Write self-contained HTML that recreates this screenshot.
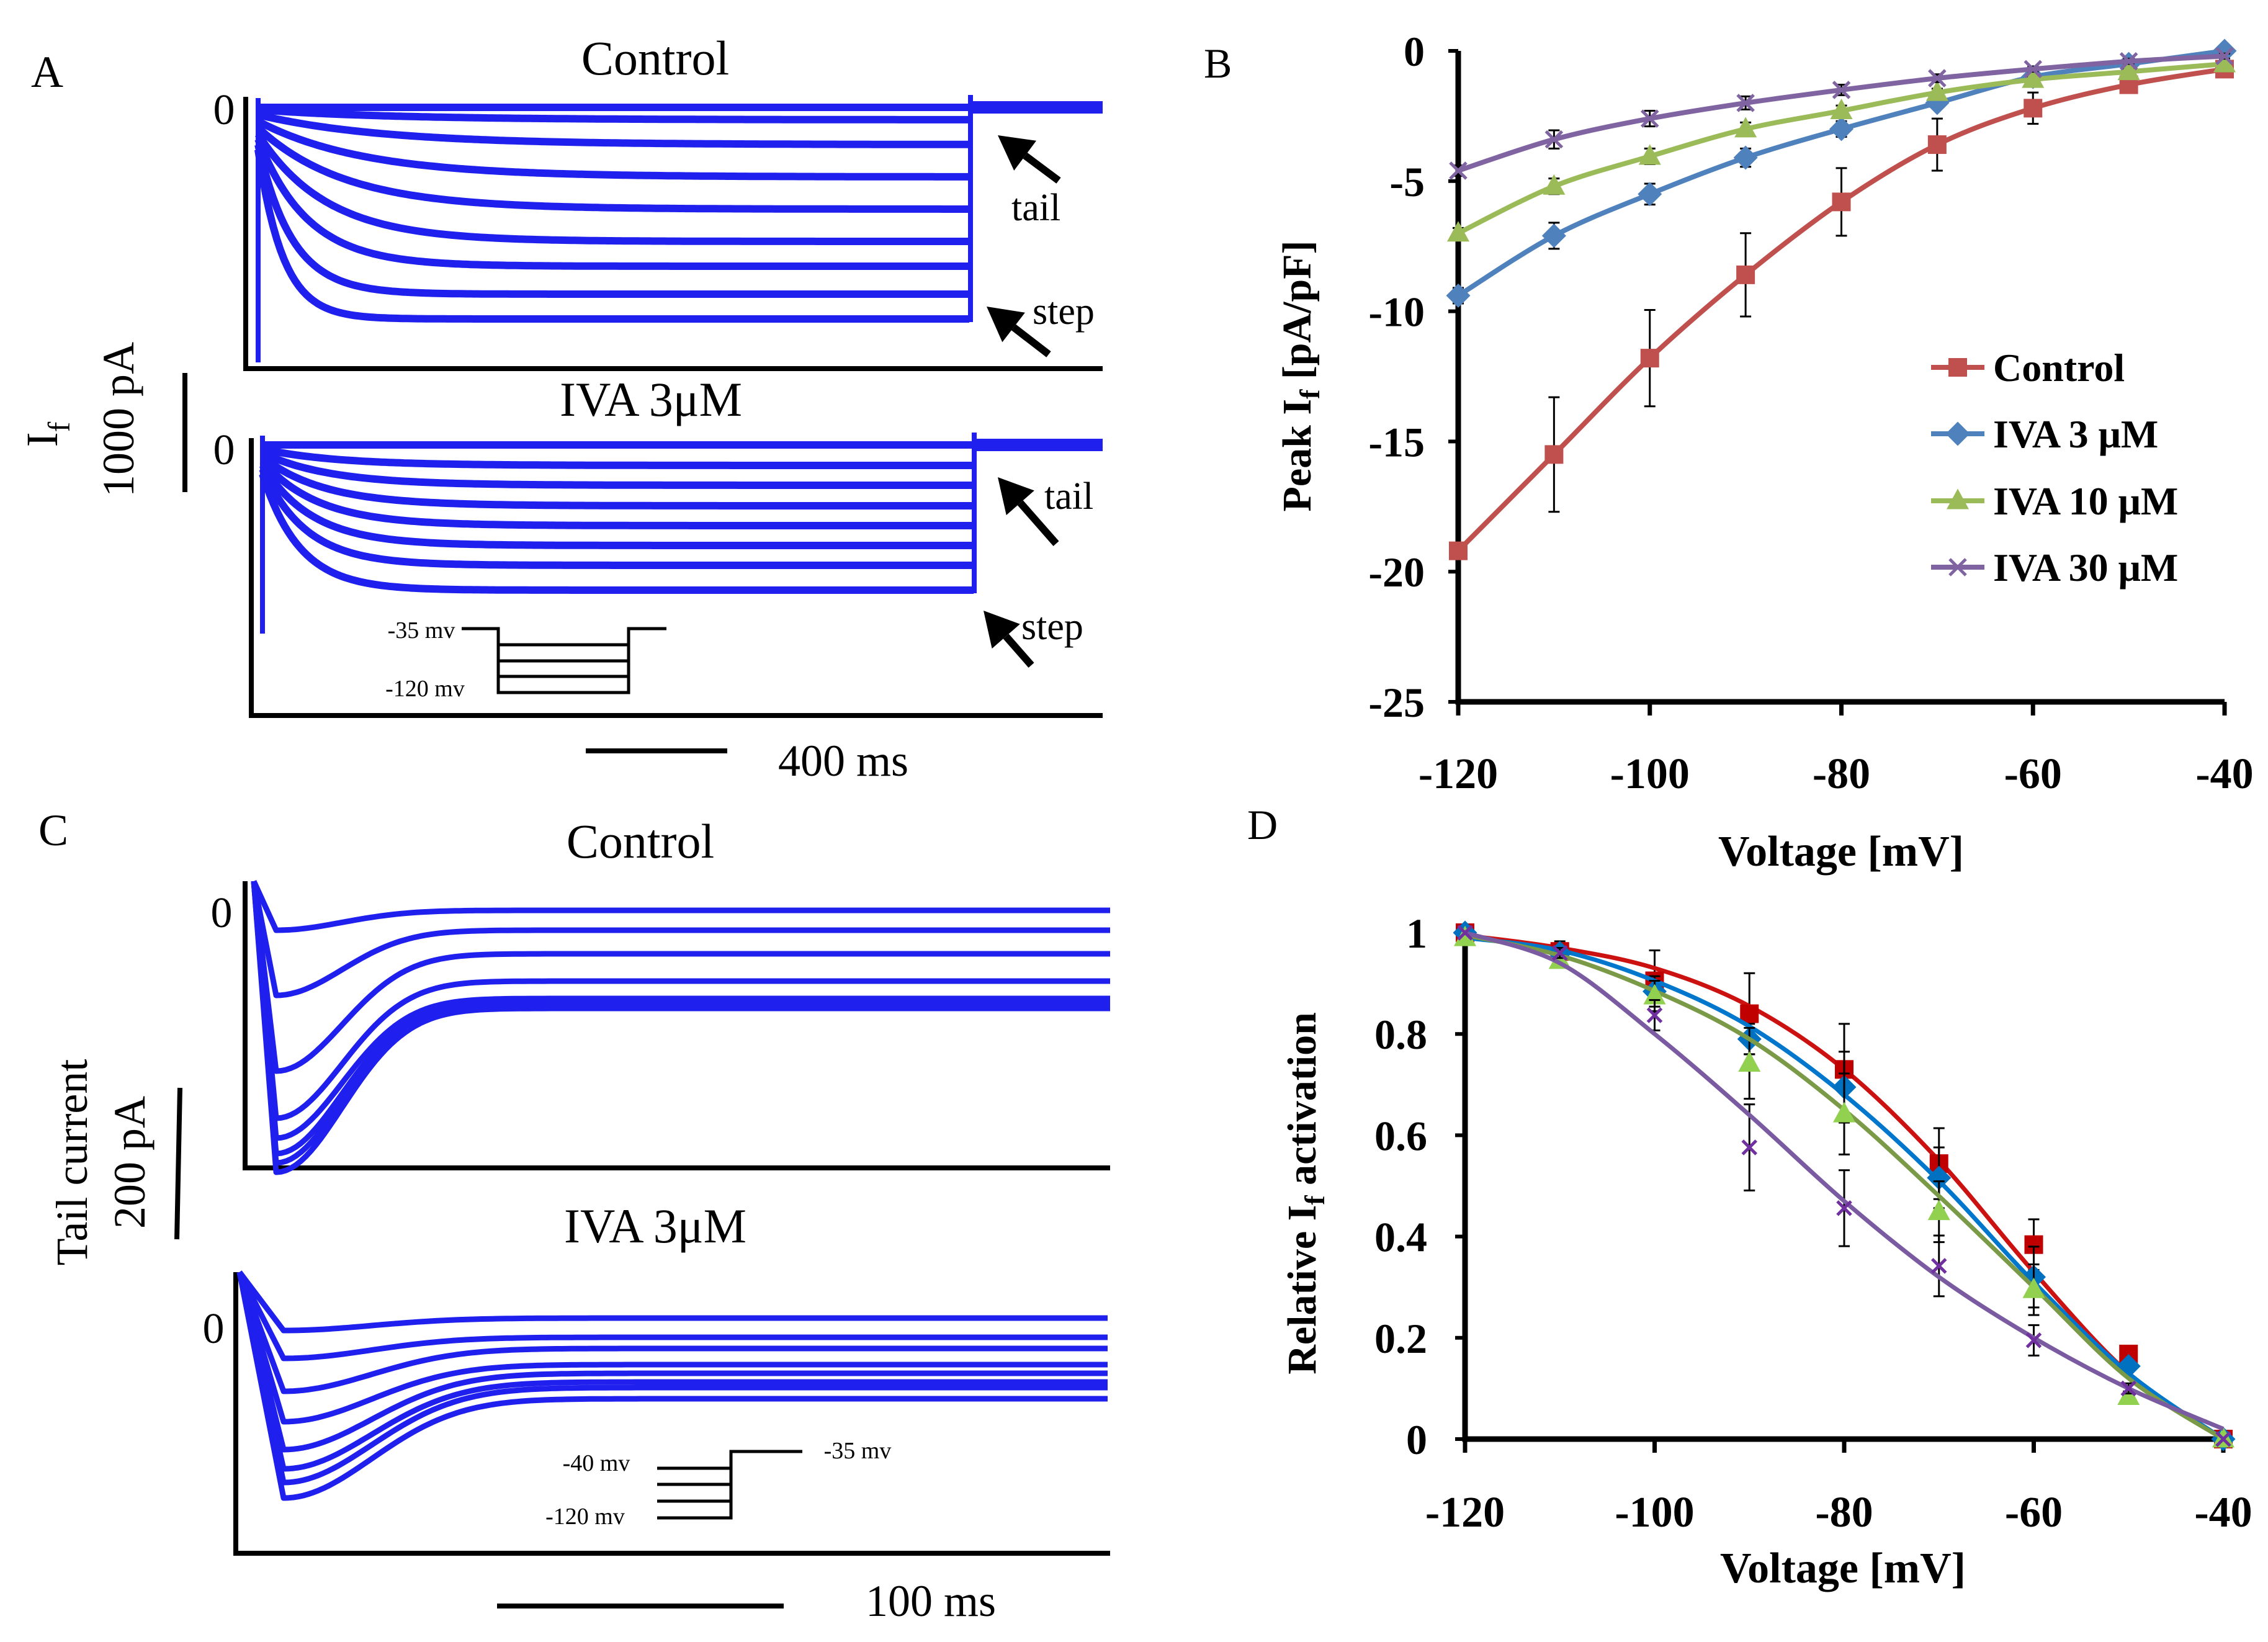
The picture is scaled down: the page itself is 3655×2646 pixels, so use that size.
<!DOCTYPE html>
<html><head><meta charset="utf-8"><style>
html,body{margin:0;padding:0;background:#fff}
svg{display:block}
text{font-family:"Liberation Serif",serif}
.b{font-weight:bold}
</style></head><body>
<svg id="fig" width="3655" height="2646" viewBox="0 0 3655 2646" xmlns="http://www.w3.org/2000/svg">
<g id="pA">
 <text x="50" y="140" font-size="72">A</text>
 <text x="1056" y="120" font-size="78" text-anchor="middle">Control</text>
 <text x="1049" y="670" font-size="78" text-anchor="middle">IVA 3μM</text>
 <text x="361" y="200" font-size="70" text-anchor="middle">0</text>
 <text x="361" y="748" font-size="70" text-anchor="middle">0</text>
 <line x1="298" y1="601" x2="298" y2="793" stroke="#000" stroke-width="8"/>
 <text transform="translate(215,676) rotate(-90)" font-size="72" text-anchor="middle">1000 pA</text>
 <text transform="translate(92,700) rotate(-90)" font-size="72" text-anchor="middle">I<tspan font-size="50" dy="20">f</tspan></text>
 <line x1="944" y1="1210" x2="1172" y2="1210" stroke="#000" stroke-width="8"/>
 <text x="1359" y="1250" font-size="72" text-anchor="middle">400 ms</text>
 <text x="1630" y="355" font-size="62">tail</text>
 <text x="1664" y="522" font-size="62">step</text>
 <text x="1683" y="820" font-size="62">tail</text>
 <text x="1646" y="1030" font-size="62">step</text>
 <text x="679" y="1028" font-size="38" text-anchor="middle">-35 mv</text>
 <text x="685" y="1122" font-size="38" text-anchor="middle">-120 mv</text>
</g>
<g id="pC">
 <text x="62" y="1362" font-size="72">C</text>
 <text x="1032" y="1382" font-size="78" text-anchor="middle">Control</text>
 <text x="1056" y="2002" font-size="78" text-anchor="middle">IVA 3μM</text>
 <text x="357" y="1494" font-size="70" text-anchor="middle">0</text>
 <text x="344" y="2164" font-size="70" text-anchor="middle">0</text>
 <line x1="290" y1="1753" x2="285" y2="1997" stroke="#000" stroke-width="8"/>
 <text transform="translate(233,1873) rotate(-90)" font-size="72" text-anchor="middle">200 pA</text>
 <text transform="translate(140,1873) rotate(-90)" font-size="72" text-anchor="middle">Tail current</text>
 <line x1="801" y1="2588" x2="1263" y2="2588" stroke="#000" stroke-width="8"/>
 <text x="1500" y="2604" font-size="72" text-anchor="middle">100 ms</text>
 <text x="961" y="2370" font-size="38" text-anchor="middle">-40 mv</text>
 <text x="1382" y="2350" font-size="38" text-anchor="middle">-35 mv</text>
 <text x="943" y="2456" font-size="38" text-anchor="middle">-120 mv</text>
</g>
<g id="pB">
 <text x="1940" y="125" font-size="68">B</text>
</g>
<g id="pD">
 <text x="2010" y="1352" font-size="68">D</text>
</g>
</svg>
<script>
// ---------- Panel B data ----------
const voltages = [-120,-110,-100,-90,-80,-70,-60,-50,-40];
const seriesNames = ["Control","IVA 3 μM","IVA 10 μM","IVA 30 μM"];
const peakControl = [-19.2,-15.5,-11.8,-8.6,-5.8,-3.6,-2.2,-1.3,-0.7];
const peakIva3 = [-9.4,-7.1,-5.5,-4.1,-3.0,-2.0,-1.0,-0.5,0];
const peakIva10 = [-7.0,-5.2,-4.05,-3.0,-2.3,-1.6,-1.1,-0.8,-0.5];
const peakIva30 = [-4.6,-3.4,-2.6,-2.0,-1.5,-1.05,-0.7,-0.4,-0.2];
const errControl = [0.2,2.2,1.85,1.6,1.3,1.0,0.6,0.2,0.1];
const errIva3 = [0.3,0.5,0.4,0.35,0.3,0.2,0.15,0.1,0.1];
const errIva10 = [0.2,0.3,0.3,0.25,0.2,0.15,0.1,0.1,0.1];
const errIva30 = [0.2,0.35,0.3,0.25,0.2,0.15,0.1,0.1,0.1];
const yTicksB = [0,-5,-10,-15,-20,-25];
const xTicks = [-120,-100,-80,-60,-40];
// ---------- Panel D data ----------
const yTicksD = [0,0.2,0.4,0.6,0.8,1];
const yTickLabelsD = ["0","0.2","0.4","0.6","0.8","1"];
const actControl = [1,0.963,0.905,0.84,0.73,0.544,0.384,0.168,0];
const actIva3 = [1,0.96,0.884,0.79,0.695,0.516,0.32,0.144,0];
const actIva10 = [0.99,0.945,0.875,0.742,0.642,0.449,0.295,0.084,0];
const actIva30 = [1,0.96,0.837,0.576,0.456,0.342,0.195,0.10,0];
const fitControl = [0.995,0.97,0.93,0.855,0.73,0.55,0.33,0.13,0];
const fitIva3 = [0.99,0.965,0.905,0.815,0.68,0.51,0.31,0.13,0];
const fitIva10 = [0.995,0.955,0.885,0.79,0.65,0.48,0.30,0.12,0];
const fitIva30 = [1.0,0.94,0.80,0.64,0.47,0.32,0.20,0.10,0.02];
const errActControl = [0,0.02,0.06,0.08,0.09,0.07,0.05,0.01,0];
const errActIva3 = [0,0.01,0.03,0.03,0.07,0.06,0.06,0.01,0];
const errActIva10 = [0,0.01,0.03,0.07,0.08,0.06,0.05,0.01,0];
const errActIva30 = [0,0.01,0.03,0.085,0.075,0.06,0.03,0.01,0];
// ---------- Panels A/C trace data (steady-state levels, px offsets below zero) ----------
const aControlLevels = [0,20,60,112,164,216,256,301,341];
const aControlTau = [200,220,200,170,140,110,80,55,40];
const aIvaLevels = [0,33,65,98,130,162,194,234];
const aIvaTau = [120,120,110,100,90,80,70,60];
const cControlTrough = [30,135,257,333,365,390,405,420];
const cControlSteady = [-2,30,68,112,140,146,152,156];
const cIvaTrough = [5,50,103,152,197,228,250,275];
const cIvaSteady = [-15,16,34,60,74,88,97,115];

const NS="http://www.w3.org/2000/svg";
const svg=document.getElementById('fig');
function el(tag,attrs,parent){const e=document.createElementNS(NS,tag);for(const k in attrs)e.setAttribute(k,attrs[k]);(parent||svg).appendChild(e);return e;}
function smooth(pts){let d="M"+pts[0][0]+","+pts[0][1];for(let i=0;i<pts.length-1;i++){const p0=pts[Math.max(0,i-1)],p1=pts[i],p2=pts[i+1],p3=pts[Math.min(pts.length-1,i+2)];const c1=[p1[0]+(p2[0]-p0[0])/6,p1[1]+(p2[1]-p0[1])/6],c2=[p2[0]-(p3[0]-p1[0])/6,p2[1]-(p3[1]-p1[1])/6];d+=` C${c1[0]},${c1[1]} ${c2[0]},${c2[1]} ${p2[0]},${p2[1]}`;}return d;}
function marker(g,type,x,y,col,s){
 let m;
 if(type==='sq') m=el('rect',{x:x-s,y:y-s,width:2*s,height:2*s,fill:col},g);
 else if(type==='di') m=el('polygon',{points:`${x},${y-s*1.3} ${x+s*1.3},${y} ${x},${y+s*1.3} ${x-s*1.3},${y}`,fill:col},g);
 else if(type==='tr') m=el('polygon',{points:`${x},${y-s*1.3} ${x+s*1.2},${y+s*0.9} ${x-s*1.2},${y+s*0.9}`,fill:col},g);
 else {m=el('path',{d:`M${x-s},${y-s}L${x+s},${y+s}M${x+s},${y-s}L${x-s},${y+s}`,stroke:col,'stroke-width':5,fill:'none'},g);}
 return m;
}
// ---------- Panel B ----------
(function(){
 const g=document.getElementById('pB');
 const X=v=>2350+(v+120)/80*(3585-2350);
 const Y=v=>82+(-v)/25*(1131-82);
 const ax=el('path',{d:`M2350,${Y(0)}V${Y(-25)}H3585`,stroke:'#000','stroke-width':9,fill:'none'},g);
 
 
 yTicksB.forEach(t=>{
  const tk=el('line',{x1:2334,x2:2350,y1:Y(t),y2:Y(t),stroke:'#000','stroke-width':6},g);
  
  
  const lb=el('text',{x:2296,y:Y(t)+24,'font-size':68,'text-anchor':'end',class:'b'},g);lb.textContent=String(t);
  
  
 });
 xTicks.forEach(t=>{
  const tk=el('line',{x1:X(t),x2:X(t),y1:Y(-25),y2:Y(-25)+22,stroke:'#000','stroke-width':7},g);
  
  
  const lb=el('text',{x:X(t),y:1270,'font-size':70,'text-anchor':'middle',class:'b'},g);lb.textContent=String(t);
  
  
 });
 const xt=el('text',{x:2967,y:1395,'font-size':70,'text-anchor':'middle',class:'b'},g);xt.textContent='Voltage [mV]';
 
 
 const yt=el('text',{transform:'translate(2112,606) rotate(-90)','font-size':66,'text-anchor':'middle',class:'b'},g);
 yt.innerHTML='Peak I<tspan font-size="46" dy="14">f</tspan><tspan dy="-14"> [pA/pF]</tspan>';
 
 
 const series=[[peakControl,errControl,'#c0504d','sq'],[peakIva3,errIva3,'#4f81bd','di'],[peakIva10,errIva10,'#9bbb59','tr'],[peakIva30,errIva30,'#8064a2','x']];
 series.forEach(([vals,errs,col,mk],si)=>{
  const sg=el('g',{},g);
  
  
  vals.forEach((v,i)=>{
   const e=el('path',{d:`M${X(voltages[i])},${Y(v-errs[i])}V${Y(v+errs[i])}M${X(voltages[i])-9},${Y(v-errs[i])}h18M${X(voltages[i])-9},${Y(v+errs[i])}h18`,stroke:'#000','stroke-width':3,fill:'none'},sg);
   
   
  });
  const ln=el('path',{d:smooth(vals.map((v,i)=>[X(voltages[i]),Y(v)])),stroke:col,'stroke-width':8,fill:'none'},sg);
  
  
  vals.forEach((v,i)=>{const m=marker(sg,mk,X(voltages[i]),Y(v),col,mk==='x'?13:15);
   
   });
 });
 const ly=[592,699,807,914];
 series.forEach(([v,e,col,mk],i)=>{
  const l=el('line',{x1:3112,x2:3198,y1:ly[i],y2:ly[i],stroke:col,'stroke-width':8},g);
  
  
  const m=marker(g,mk,3155,ly[i],col,mk==='x'?13:15);
  
  
  const t=el('text',{x:3212,y:ly[i]+22,'font-size':64,class:'b'},g);t.textContent=seriesNames[i];
  
  
 });
})();
// ---------- Panel D ----------
(function(){
 const g=document.getElementById('pD');
 const X=v=>2361+(v+120)/80*(3583-2361);
 const Y=v=>2319-v*(2319-1503);
 const ax=el('path',{d:`M2361,1490V2319H3583`,stroke:'#000','stroke-width':9,fill:'none'},g);
 
 
 yTicksD.forEach((t,i)=>{
  const tk=el('line',{x1:2345,x2:2361,y1:Y(t),y2:Y(t),stroke:'#000','stroke-width':6},g);
  
  
  const lb=el('text',{x:2300,y:Y(t)+24,'font-size':68,'text-anchor':'end',class:'b'},g);lb.textContent=yTickLabelsD[i];
  
  
 });
 xTicks.forEach(t=>{
  const tk=el('line',{x1:X(t),x2:X(t),y1:2319,y2:2341,stroke:'#000','stroke-width':7},g);
  
  
  const lb=el('text',{x:X(t),y:2460,'font-size':70,'text-anchor':'middle',class:'b'},g);lb.textContent=String(t);
  
  
 });
 const xt=el('text',{x:2970,y:2550,'font-size':70,'text-anchor':'middle',class:'b'},g);xt.textContent='Voltage [mV]';
 
 
 const yt=el('text',{transform:'translate(2120,1923) rotate(-90)','font-size':66,'text-anchor':'middle',class:'b'},g);
 yt.innerHTML='Relative I<tspan font-size="46" dy="14">f</tspan><tspan dy="-14"> activation</tspan>';
 
 
 const series=[[actControl,fitControl,errActControl,'#c00000','#cc1111','sq'],[actIva3,fitIva3,errActIva3,'#0070c0','#0077cc','di'],[actIva10,fitIva10,errActIva10,'#92d050','#7a9a48','tr'],[actIva30,fitIva30,errActIva30,'#7030a0','#7a5aa0','x']];
 series.forEach(([vals,fit,errs,mc,lc,mk],si)=>{
  const sg=el('g',{},g);
  
  
  vals.forEach((v,i)=>{ if(errs[i]<=0) return;
   const e=el('path',{d:`M${X(voltages[i])},${Y(v-errs[i])}V${Y(v+errs[i])}M${X(voltages[i])-9},${Y(v-errs[i])}h18M${X(voltages[i])-9},${Y(v+errs[i])}h18`,stroke:'#000','stroke-width':3,fill:'none'},sg);
   
   
  });
  const ln=el('path',{d:smooth(fit.map((v,i)=>[X(voltages[i]),Y(v)])),stroke:lc,'stroke-width':7,fill:'none'},sg);
  
  
  vals.forEach((v,i)=>{const m=marker(sg,mk,X(voltages[i]),Y(v),mc,mk==='x'?11:15);
   
   });
 });
})();
// ---------- Panel A ----------
(function(){
 const g=document.getElementById('pA');
 const blue='#1f1fee';
 function axes(x0,yTop,yBot,xEnd,name){const a=el('path',{d:`M${x0},${yTop}V${yBot}H${xEnd}`,stroke:'#000','stroke-width':8,fill:'none'},g);
  
  }
 axes(396,156,594,1777,'a-control-axes');
 axes(405,706,1153,1777,'a-iva-axes');
 function traces(levels,taus,x0,x1,xEnd,zero,name){
  const tg=el('g',{},g);
  
  
  levels.forEach((L,i)=>{
   let d=`M${x0},${zero+L*0.2}`;
   for(let x=x0;x<=x1;x+=6){const t=x-x0;const y=zero+L*(1-0.8*Math.exp(-t/taus[i]));d+=`L${x},${y.toFixed(1)}`;}
   const p=el('path',{d:d,stroke:blue,'stroke-width':12,fill:'none'},tg);
   
   
  });
  const t=el('path',{d:`M${x1},${zero}H${xEnd}`,stroke:blue,'stroke-width':20,fill:'none'},tg);
  
  
  const v1=el('line',{x1:x0,x2:x0,y1:zero-15,y2:zero+levels[levels.length-1]+70,stroke:blue,'stroke-width':8},tg);
  
  
  const v2=el('line',{x1:x1,x2:x1,y1:zero-20,y2:zero+levels[levels.length-1]+5,stroke:blue,'stroke-width':8},tg);
  
  
 }
 traces(aControlLevels,aControlTau,416,1564,1777,173,'a-control-traces');
 traces(aIvaLevels,aIvaTau,423,1570,1777,717,'a-iva-traces');
 function arrow(x1,y1,x2,y2,name){
  const ang=Math.atan2(y2-y1,x2-x1),L=55,W=30;
  const bx=x2-L*Math.cos(ang),by=y2-L*Math.sin(ang);
  const a=el('g',{},g);
  
  
  el('line',{x1:x1,y1:y1,x2:bx,y2:by,stroke:'#000','stroke-width':12},a);
  el('polygon',{points:`${x2},${y2} ${bx+W*Math.sin(ang)},${by-W*Math.cos(ang)} ${bx-W*Math.sin(ang)},${by+W*Math.cos(ang)}`,fill:'#000'},a);
 }
 arrow(1706,291,1608,218,'tail-arrow');
 arrow(1690,571,1590,494,'step-arrow');
 arrow(1702,876,1608,769,'tail-arrow-2');
 arrow(1662,1072,1585,984,'step-arrow-2');
 const pr=el('path',{d:'M744,1013H803V1116H1013V1013H1074M803,1039H1013M803,1065H1013M803,1090H1013',stroke:'#000','stroke-width':5,fill:'none'},g);
 
 
})();
// ---------- Panel C ----------
(function(){
 const g=document.getElementById('pC');
 const blue='#1f1fee';
 function axes(x0,yTop,yBot,xEnd,name){const a=el('path',{d:`M${x0},${yTop}V${yBot}H${xEnd}`,stroke:'#000','stroke-width':8,fill:'none'},g);
  
  }
 axes(395,1420,1882,1789,'c-control-axes');
 axes(380,2050,2503,1789,'c-iva-axes');
 function traces(trough,steady,x0,top,zero,xt,xEnd,tau,name){
  const tg=el('g',{},g);
  
  
  trough.forEach((T,i)=>{
   const S=steady[i];
   let d=`M${x0},${top}L${xt},${zero+T}`;
   for(let x=xt;x<=xEnd;x+=8){const t=x-xt;const y=zero+S+(T-S)*Math.exp(-(t*t)/(tau*tau));d+=`L${x},${y.toFixed(1)}`;}
   const p=el('path',{d:d,stroke:blue,'stroke-width':9,fill:'none','stroke-linejoin':'round'},tg);
   
   
  });
 }
 traces(cControlTrough,cControlSteady,409,1420,1469,445,1789,150,'c-control-traces');
 traces(cIvaTrough,cIvaSteady,386,2050,2139,457,1789,200,'c-iva-traces');
 const pr=el('path',{d:'M1059,2366H1178M1059,2392H1178M1059,2419H1178M1059,2446H1178V2339H1293',stroke:'#000','stroke-width':5,fill:'none'},g);
 
 
})();
</script>
</body></html>
